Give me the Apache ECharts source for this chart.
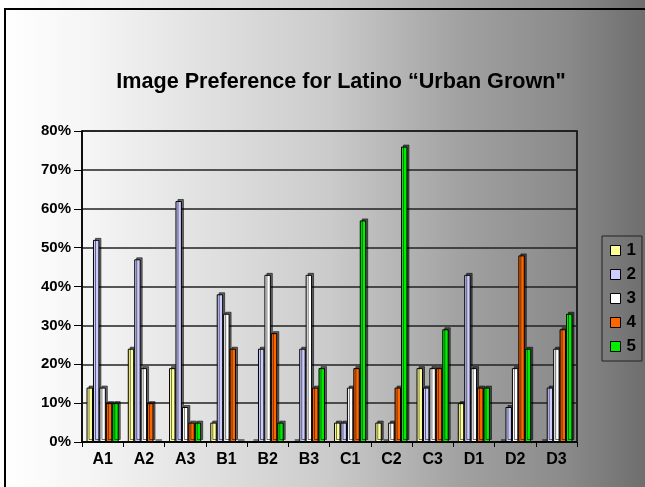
<!DOCTYPE html>
<html>
<head>
<meta charset="utf-8">
<script src="https://cdn.jsdelivr.net/npm/echarts@6/dist/echarts.min.js"></script>
<style>
  html, body { margin: 0; padding: 0; }
  #chart { width: 645px; height: 487px; }
</style>
</head>
<body>
<div id="chart"></div>
<script>
// Image codes shown along the x axis
const categories = ['A1', 'A2', 'A3', 'B1', 'B2', 'B3', 'C1', 'C2', 'C3', 'D1', 'D2', 'D3'];

// Share of respondents (%) giving each rating, per image
const rating1 = [14, 24, 19, 5, 0, 0, 5, 5, 19, 10, 0, 0];
const rating2 = [52, 47, 62, 38, 24, 24, 5, 0, 14, 43, 9, 14];
const rating3 = [14, 19, 9, 33, 43, 43, 14, 5, 19, 19, 19, 24];
const rating4 = [10, 10, 5, 24, 28, 14, 19, 14, 19, 14, 48, 29];
const rating5 = [10, 0, 5, 0, 5, 19, 57, 76, 29, 14, 24, 33];

const seriesNames = ['1', '2', '3', '4', '5'];
const seriesValues = [rating1, rating2, rating3, rating4, rating5];
const seriesColors = ['#FFFF99', '#CCCCFF', '#FFFFFF', '#FF6600', '#00EE00'];

const yTicks = { min: 0, max: 80, interval: 10 };

const FONT = '"Liberation Sans", Arial, sans-serif';

const chart = echarts.init(document.getElementById('chart'), null, { renderer: 'canvas' });

const series = seriesNames.map((name, i) => ({
  name: name,
  type: 'bar',
  data: seriesValues[i],
  barGap: '0%',
  barCategoryGap: '22%',
  itemStyle: {
    color: seriesColors[i],
    borderColor: '#000',
    borderWidth: 1,
    shadowColor: 'rgba(0,0,0,0.55)',
    shadowOffsetX: 2,
    shadowOffsetY: -2,
    shadowBlur: 0
  },
  emphasis: { disabled: true },
  animation: false
}));

chart.setOption({
  animation: false,
  backgroundColor: {
    type: 'linear', x: 0, y: 0, x2: 1, y2: 0,
    colorStops: [
      { offset: 0, color: '#ffffff' },
      { offset: 0.14, color: '#f5f5f5' },
      { offset: 0.51, color: '#cbcbcb' },
      { offset: 0.71, color: '#a2a2a2' },
      { offset: 0.88, color: '#8a8a8a' },
      { offset: 1, color: '#6e6e6e' }
    ]
  },
  graphic: [{
    type: 'rect',
    shape: { x: 5, y: 9, width: 660, height: 500 },
    style: { fill: 'none', stroke: '#000', lineWidth: 2 },
    silent: true,
    z: 100
  }],
  title: {
    text: 'Image Preference for Latino \u201CUrban Grown"',
    left: 336,
    top: 66,
    textAlign: 'center',
    textStyle: { fontFamily: FONT, fontWeight: 'bold', fontSize: 21.6, color: '#000' }
  },
  legend: {
    orient: 'vertical',
    left: 602,
    top: 236,
    width: 40,
    padding: [6, 6, 6, 8],
    itemWidth: 10,
    itemHeight: 10,
    itemGap: 7,
    borderColor: '#222',
    borderWidth: 1,
    icon: 'rect',
    itemStyle: { borderColor: '#000', borderWidth: 1, shadowBlur: 0, shadowOffsetX: 0, shadowOffsetY: 0 },
    textStyle: { fontFamily: FONT, fontWeight: 'bold', fontSize: 17, color: '#000', padding: [0, 0, 0, 1] },
    data: seriesNames
  },
  grid: {
    left: 82,
    right: 68,
    top: 131,
    bottom: 45,
    show: true,
    borderColor: '#000',
    borderWidth: 1.5,
    backgroundColor: 'transparent'
  },
  xAxis: {
    type: 'category',
    data: categories,
    axisLine: { lineStyle: { color: '#000', width: 1.5 } },
    axisTick: { show: true, inside: false, length: 5, lineStyle: { color: '#000' } },
    axisLabel: { fontFamily: FONT, fontWeight: 'bold', fontSize: 16, color: '#000', margin: 10 }
  },
  yAxis: {
    type: 'value',
    min: yTicks.min,
    max: yTicks.max,
    interval: yTicks.interval,
    axisLine: { show: true, lineStyle: { color: '#000', width: 1.5 } },
    axisTick: { show: true, length: 8, lineStyle: { color: '#000' } },
    axisLabel: { fontFamily: FONT, fontWeight: 'bold', fontSize: 15, color: '#000', margin: 11, formatter: '{value}%' },
    splitLine: { show: true, lineStyle: { color: '#222', width: 1.5 } }
  },
  series: series
});
</script>
</body>
</html>
